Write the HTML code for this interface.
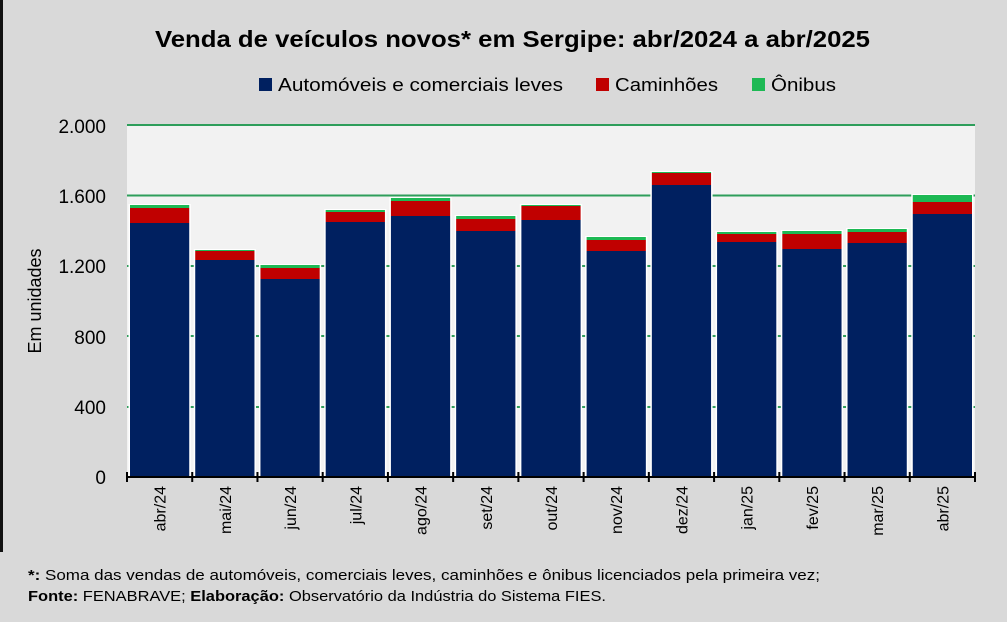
<!DOCTYPE html><html><head><meta charset="utf-8"><style>body{margin:0;width:1007px;height:624px;overflow:hidden;background:#fff}svg{display:block;font-family:"Liberation Sans","DejaVu Sans",sans-serif}</style></head><body>
<svg width="1007" height="624" viewBox="0 0 1007 624">
<rect x="0" y="0" width="1007" height="622" fill="#d9d9d9"/>
<rect x="0" y="0" width="3" height="552" fill="#111"/>
<text x="155" y="47" textLength="715" lengthAdjust="spacingAndGlyphs" font-size="23" font-weight="bold" fill="#000">Venda de veículos novos* em Sergipe: abr/2024 a abr/2025</text>
<rect x="259" y="78" width="13" height="13" fill="#002060"/><text x="278" y="91" font-size="18" textLength="285" lengthAdjust="spacingAndGlyphs">Automóveis e comerciais leves</text>
<rect x="596" y="78" width="13" height="13" fill="#c00000"/><text x="615" y="91" font-size="18" textLength="103" lengthAdjust="spacingAndGlyphs">Caminhões</text>
<rect x="752" y="78" width="13" height="13" fill="#1db954"/><text x="771" y="91" font-size="18" textLength="65" lengthAdjust="spacingAndGlyphs">Ônibus</text>
<rect x="127" y="125" width="848" height="352" fill="#f2f2f2"/>
<g stroke="#2e9e5b" stroke-width="2"><line x1="127" x2="975" y1="125" y2="125"/><line x1="127" x2="975" y1="195.5" y2="195.5"/><line x1="127" x2="975" y1="266" y2="266"/><line x1="127" x2="975" y1="336" y2="336"/><line x1="127" x2="975" y1="407" y2="407"/></g>
<g font-size="19" text-anchor="end" fill="#000"><text x="106" y="133">2.000</text><text x="106" y="203">1.600</text><text x="106" y="273">1.200</text><text x="106" y="344">800</text><text x="106" y="414">400</text><text x="106" y="484">0</text></g>
<text transform="translate(41,301) rotate(-90)" text-anchor="middle" font-size="18">Em unidades</text>
<g id="bars"></g>
<line x1="127" x2="975" y1="477" y2="477" stroke="#000" stroke-width="2"/>
<g id="ticks" stroke="#000" stroke-width="2"></g>
<g id="lbl" font-size="16"></g>
<text x="28" y="580" font-size="15" textLength="792" lengthAdjust="spacingAndGlyphs"><tspan font-weight="bold">*:</tspan> Soma das vendas de automóveis, comerciais leves, caminhões e ônibus licenciados pela primeira vez;</text>
<text x="28" y="601" font-size="15" textLength="578" lengthAdjust="spacingAndGlyphs"><tspan font-weight="bold">Fonte:</tspan> FENABRAVE; <tspan font-weight="bold">Elaboração:</tspan> Observatório da Indústria do Sistema FIES.</text>
</svg>
<script>
var d=[["abr/24",223,208,205],["mai/24",260,251,250],["jun/24",279,268,265],["jul/24",222,212,210],["ago/24",216,201,198],["set/24",231,219,216],["out/24",220,206,205],["nov/24",251,240,237],["dez/24",185,173,172],["jan/25",242,234,232],["fev/25",249,234,231],["mar/25",243,232,229],["abr/25",214,202,195]];
var ns="http://www.w3.org/2000/svg",b=document.getElementById("bars"),t=document.getElementById("ticks"),l=document.getElementById("lbl"),w=848/13;
function el(p,n,a){var e=document.createElementNS(ns,n);for(var k in a)e.setAttribute(k,a[k]);p.appendChild(e);return e}
d.forEach(function(r,i){var x=127+i*w+3,bw=w-6;
el(b,"rect",{x:x-1.5,y:r[3]-1,width:bw+3,height:477-r[3]+1,fill:"#ffffff"});
el(b,"rect",{x:x,y:r[3],width:bw,height:r[2]-r[3],fill:"#1db954"});
el(b,"rect",{x:x,y:r[2],width:bw,height:r[1]-r[2],fill:"#c00000"});
el(b,"rect",{x:x,y:r[1],width:bw,height:477-r[1],fill:"#002060"});
var cx=127+i*w+w/2;var tx=el(l,"text",{transform:"translate("+(cx+6)+",486) rotate(-90)","text-anchor":"end"});tx.textContent=r[0];});
for(var i=0;i<=13;i++){var x=127+i*w;el(t,"line",{x1:x,x2:x,y1:472,y2:482});}
</script>
</body></html>
